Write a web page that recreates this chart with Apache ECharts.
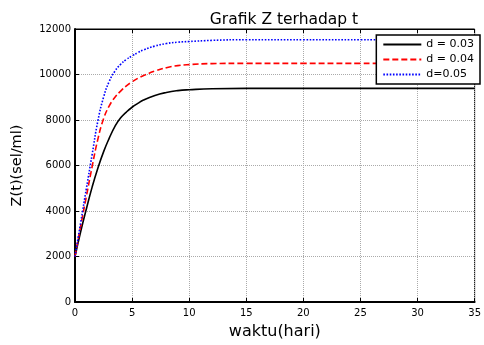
<!DOCTYPE html>
<html>
<head>
<meta charset="utf-8">
<script src="https://cdn.jsdelivr.net/npm/echarts@6/dist/echarts.min.js"></script>
<style>
  html, body { margin: 0; padding: 0; background: #fff; }
  #chart { width: 484px; height: 345px; }
</style>
</head>
<body>
<div id="chart"></div>
<script>
// time (hari)
var tData = [0, 0.5, 1, 1.5, 2, 2.5, 3, 3.5, 4, 4.5, 5, 5.5, 6, 7, 8, 9, 10, 12, 15, 20, 25, 30, 35];
// Z(t) for each d
var zD003 = [2000, 3100, 4100, 5050, 5880, 6600, 7200, 7720, 8100, 8350, 8560, 8730, 8880, 9080, 9210, 9290, 9330, 9375, 9390, 9390, 9390, 9390, 9390];
var zD004 = [2000, 3350, 4650, 5950, 7150, 8050, 8620, 9000, 9270, 9500, 9680, 9830, 9950, 10150, 10300, 10390, 10435, 10480, 10490, 10490, 10490, 10490, 10490];
var zD005 = [2000, 3500, 5000, 6480, 7950, 9000, 9700, 10150, 10450, 10660, 10820, 10960, 11080, 11250, 11360, 11420, 11450, 11500, 11530, 11530, 11530, 11510, 11500];
var seriesNames = ['d = 0.03', 'd = 0.04', 'd=0.05'];

function pairs(ys) {
  return tData.map(function (t, i) { return [t, ys[i]]; });
}

var chart = echarts.init(document.getElementById('chart'));
var font = 'DejaVu Sans, sans-serif';
var gridLine = { show: true, lineStyle: { color: '#aaa', type: [1, 1], width: 1 } };

chart.setOption({
  animation: false,
  title: {
    text: 'Grafik Z terhadap t',
    left: 279, top: 7, textAlign: 'center',
    textStyle: { fontFamily: font, fontSize: 15.5, fontWeight: 'normal', color: '#000' }
  },
  grid: { left: 75, right: 0, top: 29, bottom: 39, show: true, borderColor: '#000', borderWidth: 1 },
  legend: {
    orient: 'vertical',
    right: 4, top: 35,
    data: seriesNames,
    itemWidth: 38, itemHeight: 10, itemGap: 4,
    padding: [4, 6, 4, 6],
    itemStyle: { opacity: 0 },
    borderColor: '#000', borderWidth: 1.5, backgroundColor: '#fff',
    textStyle: { fontFamily: font, fontSize: 11, color: '#000' }
  },
  xAxis: [{
    type: 'value', min: 0, max: 35, interval: 5,
    name: 'waktu(hari)', nameLocation: 'middle', nameGap: 22,
    nameTextStyle: { fontFamily: font, fontSize: 16, color: '#000' },
    axisLine: { lineStyle: { color: '#000', width: 2 } },
    axisTick: { inside: true, length: 4, lineStyle: { color: '#000' } },
    axisLabel: { fontFamily: font, fontSize: 10, color: '#000', margin: 6, showMaxLabel: true },
    splitLine: gridLine
  }, {
    type: 'value', min: 0, max: 35, interval: 5, position: 'top',
    axisLine: { lineStyle: { color: '#000', width: 1 } },
    axisTick: { inside: true, length: 4, lineStyle: { color: '#000' } },
    axisLabel: { show: false },
    splitLine: { show: false }
  }],
  yAxis: {
    type: 'value', min: 0, max: 12000, interval: 2000,
    name: 'Z(t)(sel/ml)', nameLocation: 'middle', nameGap: 50, nameRotate: 90,
    nameTextStyle: { fontFamily: font, fontSize: 14.5, color: '#000' },
    axisLine: { show: true, lineStyle: { color: '#000', width: 2 } },
    axisTick: { show: true, inside: true, length: 4, lineStyle: { color: '#000' } },
    axisLabel: { fontFamily: font, fontSize: 10, color: '#000', margin: 4,
      formatter: function (v) { return String(v); } },
    splitLine: gridLine
  },
  series: [{
    name: seriesNames[0], type: 'line', data: pairs(zD003),
    smooth: true, symbol: 'none',
    lineStyle: { color: '#000', width: 1.6, type: 'solid' },
    itemStyle: { color: '#000' }
  }, {
    name: seriesNames[1], type: 'line', data: pairs(zD004),
    smooth: true, symbol: 'none',
    lineStyle: { color: '#ff0000', width: 1.6, type: [6, 3] },
    itemStyle: { color: '#ff0000' }
  }, {
    name: seriesNames[2], type: 'line', data: pairs(zD005),
    smooth: true, symbol: 'none',
    lineStyle: { color: '#0000ff', width: 1.6, type: [1.6, 1.6] },
    itemStyle: { color: '#0000ff' }
  }]
});
</script>
</body>
</html>
